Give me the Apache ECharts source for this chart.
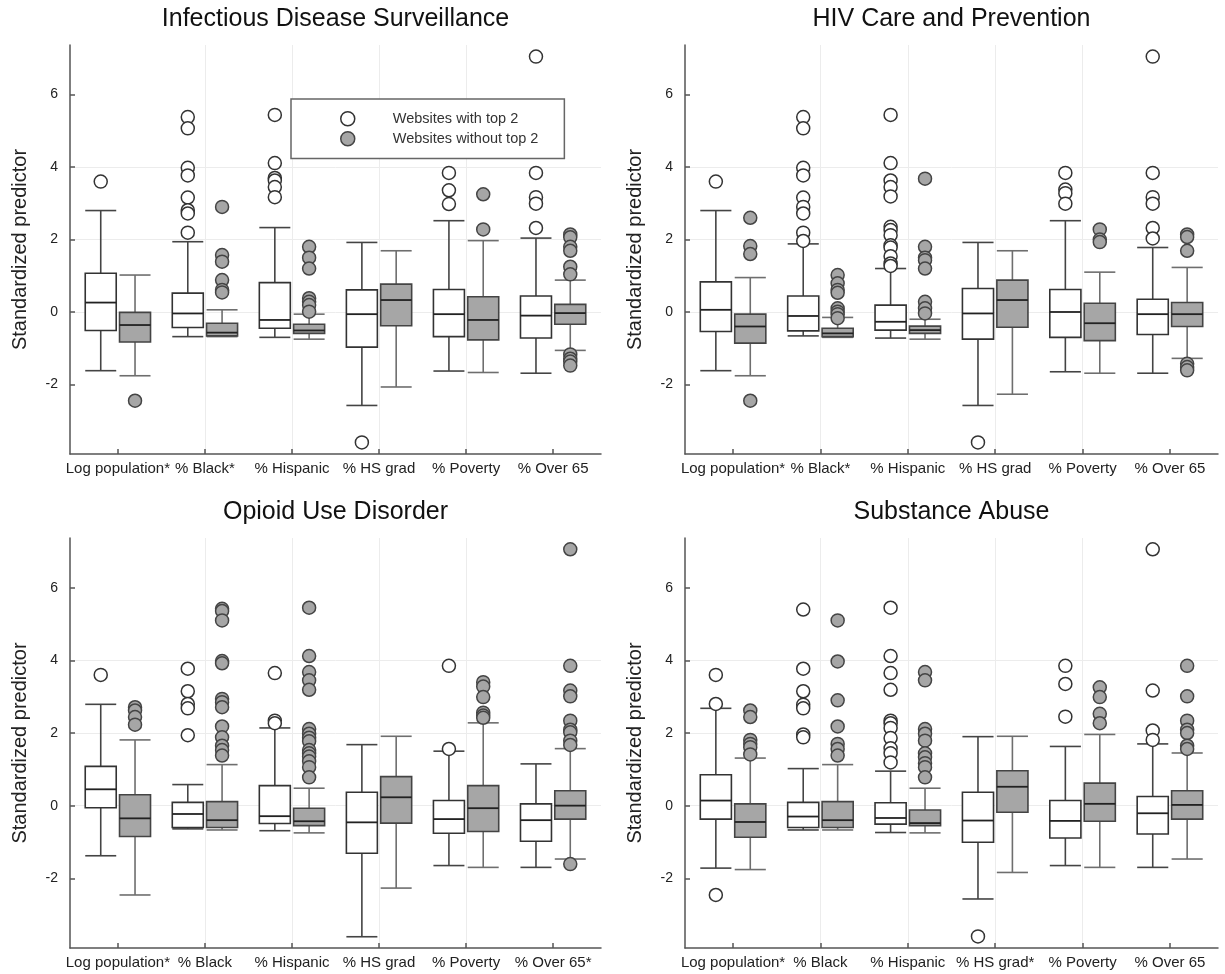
<!DOCTYPE html>
<html>
<head>
<meta charset="utf-8">
<script src="https://cdn.jsdelivr.net/npm/echarts@6/dist/echarts.min.js"></script>
<style>
  html, body { margin: 0; padding: 0; background: #fff; }
  #chart { width: 1225px; height: 974px; }
</style>
</head>
<body>
<div id="chart"></div>
<script>
// panel titles and x categories
const titles = ['Infectious Disease Surveillance', 'HIV Care and Prevention', 'Opioid Use Disorder', 'Substance Abuse'];
const cats1 = ['Log population*', '% Black*', '% Hispanic', '% HS grad', '% Poverty', '% Over 65'];
const cats2 = ['Log population*', '% Black*', '% Hispanic', '% HS grad', '% Poverty', '% Over 65'];
const cats3 = ['Log population*', '% Black', '% Hispanic', '% HS grad', '% Poverty', '% Over 65*'];
const cats4 = ['Log population*', '% Black', '% Hispanic', '% HS grad*', '% Poverty', '% Over 65'];
const yTicks = [-2, 0, 2, 4, 6];
const seriesNames = ['Websites with top 2', 'Websites without top 2'];

// boxes: [lower whisker, Q1, median, Q3, upper whisker] per category
const boxWith1 = [[-1.62, -0.51, 0.26, 1.07, 2.80], [-0.68, -0.43, -0.04, 0.52, 1.94], [-0.70, -0.45, -0.22, 0.81, 2.33], [-2.58, -0.97, -0.06, 0.61, 1.92], [-1.63, -0.68, -0.06, 0.62, 2.52], [-1.69, -0.72, -0.10, 0.44, 2.04]];
const boxWithout1 = [[-1.76, -0.83, -0.36, -0.01, 1.02], [-0.68, -0.66, -0.57, -0.31, 0.06], [-0.75, -0.59, -0.51, -0.34, -0.06], [-2.07, -0.38, 0.33, 0.77, 1.69], [-1.67, -0.77, -0.22, 0.42, 1.97], [-1.06, -0.34, -0.03, 0.21, 0.88]];
const outWith1 = [[3.60], [5.38, 5.07, 3.98, 3.77, 3.16, 2.81, 2.72, 2.19], [5.44, 4.11, 3.70, 3.63, 3.45, 3.17], [-3.60], [3.84, 3.36, 2.98], [7.05, 3.84, 3.17, 2.99, 2.32]];
const outWithout1 = [[-2.45], [2.90, 1.57, 1.39, 0.88, 0.61, 0.54], [1.80, 1.50, 1.20, 0.38, 0.28, 0.19, 0.01], [], [3.25, 2.28], [2.14, 2.06, 1.80, 1.69, 1.25, 1.04, -1.17, -1.29, -1.37, -1.48]];

const boxWith2 = [[-1.62, -0.54, 0.06, 0.83, 2.80], [-0.66, -0.52, -0.11, 0.44, 1.88], [-0.72, -0.50, -0.27, 0.19, 1.20], [-2.58, -0.75, -0.04, 0.65, 1.92], [-1.65, -0.70, 0.00, 0.62, 2.52], [-1.69, -0.62, -0.06, 0.35, 1.78]];
const boxWithout2 = [[-1.76, -0.86, -0.40, -0.06, 0.95], [-0.70, -0.68, -0.59, -0.45, -0.15], [-0.75, -0.59, -0.50, -0.39, -0.20], [-2.27, -0.42, 0.33, 0.88, 1.69], [-1.69, -0.79, -0.31, 0.24, 1.10], [-1.28, -0.40, -0.06, 0.26, 1.23]];
const outWith2 = [[3.60], [5.38, 5.07, 3.98, 3.77, 3.16, 2.90, 2.72, 2.19, 1.96], [5.44, 4.11, 3.63, 3.45, 3.19, 2.35, 2.26, 2.12, 1.84, 1.78, 1.54, 1.34, 1.27], [-3.60], [3.84, 3.38, 3.28, 2.99], [7.05, 3.84, 3.17, 2.99, 2.32, 2.03]];
const outWithout2 = [[2.60, 1.82, 1.60, -2.45], [1.02, 0.79, 0.61, 0.53, 0.10, 0.01, -0.06, -0.17], [3.68, 1.80, 1.50, 1.43, 1.20, 0.28, 0.10, -0.04], [], [2.28, 2.00, 1.93], [2.14, 2.07, 1.69, -1.43, -1.52, -1.61]];

const boxWith3 = [[-1.38, -0.06, 0.45, 1.08, 2.79], [-0.64, -0.60, -0.23, 0.09, 0.58], [-0.69, -0.49, -0.29, 0.55, 2.14], [-3.61, -1.31, -0.46, 0.37, 1.68], [-1.65, -0.76, -0.37, 0.14, 1.50], [-1.70, -0.98, -0.40, 0.05, 1.15]];
const boxWithout3 = [[-2.46, -0.85, -0.35, 0.30, 1.81], [-0.67, -0.60, -0.40, 0.11, 1.13], [-0.75, -0.55, -0.43, -0.07, 0.48], [-2.27, -0.48, 0.23, 0.80, 1.91], [-1.70, -0.71, -0.07, 0.55, 2.28], [-1.47, -0.37, 0.00, 0.41, 1.57]];
const outWith3 = [[3.60], [3.77, 3.15, 2.80, 2.68, 1.94], [3.65, 2.34, 2.27], [], [3.85, 1.56], []];
const outWithout3 = [[2.71, 2.62, 2.44, 2.23], [5.42, 5.36, 5.10, 3.98, 3.92, 2.94, 2.85, 2.71, 2.18, 1.88, 1.65, 1.53, 1.38], [5.45, 4.12, 3.68, 3.45, 3.19, 2.11, 1.98, 1.87, 1.77, 1.53, 1.44, 1.35, 1.22, 1.06, 0.78], [], [3.40, 3.28, 2.99, 2.56, 2.48, 2.42], [7.06, 3.85, 3.17, 3.01, 2.34, 2.09, 2.02, 1.79, 1.67, -1.61]];

const boxWith4 = [[-1.72, -0.37, 0.14, 0.85, 2.68], [-0.67, -0.60, -0.30, 0.09, 1.02], [-0.74, -0.51, -0.34, 0.08, 0.95], [-2.57, -1.01, -0.41, 0.37, 1.90], [-1.65, -0.89, -0.42, 0.14, 1.63], [-1.70, -0.78, -0.21, 0.25, 1.70]];
const boxWithout4 = [[-1.76, -0.87, -0.45, 0.05, 1.31], [-0.67, -0.60, -0.40, 0.11, 1.13], [-0.75, -0.55, -0.48, -0.12, 0.48], [-1.84, -0.18, 0.52, 0.96, 1.91], [-1.70, -0.43, 0.05, 0.62, 1.96], [-1.47, -0.37, 0.02, 0.41, 1.45]];
const outWith4 = [[3.60, 2.80, -2.46], [5.40, 3.77, 3.15, 2.78, 2.68, 1.96, 1.88], [5.45, 4.12, 3.65, 3.19, 2.34, 2.27, 2.14, 1.86, 1.58, 1.44, 1.19], [-3.60], [3.85, 3.35, 2.45], [7.06, 3.17, 2.07, 1.81]];
const outWithout4 = [[2.62, 2.44, 1.81, 1.70, 1.61, 1.41], [5.10, 3.97, 2.90, 2.18, 1.70, 1.56, 1.38], [3.68, 3.45, 2.11, 1.98, 1.79, 1.44, 1.33, 1.17, 1.06, 0.78], [], [3.26, 2.99, 2.53, 2.27], [3.85, 3.01, 2.34, 2.09, 2.00, 1.65, 1.56]];

const panels = [
  { cats: cats1, boxes: [boxWith1, boxWithout1], outs: [outWith1, outWithout1] },
  { cats: cats2, boxes: [boxWith2, boxWithout2], outs: [outWith2, outWithout2] },
  { cats: cats3, boxes: [boxWith3, boxWithout3], outs: [outWith3, outWithout3] },
  { cats: cats4, boxes: [boxWith4, boxWithout4], outs: [outWith4, outWithout4] }
];

const FONT = 'Liberation Sans, Arial, sans-serif';
const grids = [
  { left: 70, top: 45, width: 531, height: 409 },
  { left: 685, top: 45, width: 533, height: 409 },
  { left: 70, top: 538, width: 531, height: 410 },
  { left: 685, top: 538, width: 533, height: 410 }
];
const OFFSETS = [-0.197, 0.197];
const HALF = 0.178;
const fills = ['#ffffff', '#a6a6a6'];
const strokes = ['#333333', '#444444'];
const whiskerColors = ['#444444', '#6e6e6e'];

function boxRenderer(k) {
  return function (params, api) {
    const x = api.value(0) + OFFSETS[k];
    const xl = api.coord([x - HALF, 0])[0];
    const xr = api.coord([x + HALF, 0])[0];
    const xc = api.coord([x, 0])[0];
    const yLow = api.coord([x, api.value(1)])[1];
    const yQ1 = api.coord([x, api.value(2)])[1];
    const yMed = api.coord([x, api.value(3)])[1];
    const yQ3 = api.coord([x, api.value(4)])[1];
    const yHigh = api.coord([x, api.value(5)])[1];
    const wStyle = { stroke: whiskerColors[k], lineWidth: 1.6 };
    return {
      type: 'group',
      children: [
        { type: 'line', shape: { x1: xc, y1: yHigh, x2: xc, y2: yQ3 }, style: wStyle },
        { type: 'line', shape: { x1: xc, y1: yQ1, x2: xc, y2: yLow }, style: wStyle },
        { type: 'line', shape: { x1: xl, y1: yHigh, x2: xr, y2: yHigh }, style: wStyle },
        { type: 'line', shape: { x1: xl, y1: yLow, x2: xr, y2: yLow }, style: wStyle },
        { type: 'rect', shape: { x: xl, y: yQ3, width: xr - xl, height: yQ1 - yQ3 },
          style: { fill: fills[k], stroke: strokes[k], lineWidth: 1.6 } },
        { type: 'line', shape: { x1: xl, y1: yMed, x2: xr, y2: yMed },
          style: { stroke: '#222', lineWidth: 1.8 } }
      ]
    };
  };
}

const option = {
  animation: false,
  backgroundColor: '#fff',
  textStyle: { fontFamily: FONT },
  title: titles.map((t, i) => ({
    text: t,
    left: grids[i].left + grids[i].width / 2,
    top: i < 2 ? 7 : 500,
    textAlign: 'center',
    padding: 0,
    textStyle: { fontFamily: FONT, fontSize: 25, fontWeight: 'normal', color: '#111' }
  })),
  legend: {
    data: [
      { name: seriesNames[0], icon: 'circle', itemStyle: { color: '#fff', borderColor: '#333', borderWidth: 1.5 } },
      { name: seriesNames[1], icon: 'circle', itemStyle: { color: '#a6a6a6', borderColor: '#444', borderWidth: 1.5 } }
    ],
    orient: 'vertical',
    left: 291,
    top: 99,
    itemWidth: 80,
    itemHeight: 14,
    itemGap: 4.5,
    padding: [12, 26, 12, 49],
    borderColor: '#666',
    borderWidth: 1.5,
    backgroundColor: '#fff',
    selectedMode: false,
    textStyle: { fontFamily: FONT, fontSize: 14.5, color: '#333' }
  },
  grid: grids,
  xAxis: panels.map((p, i) => ({
    type: 'value',
    gridIndex: i,
    min: 0.45,
    max: 6.55,
    minInterval: 1,
    maxInterval: 1,
    axisLine: { show: true, onZero: false, lineStyle: { color: '#555', width: 1.5 } },
    axisTick: { show: true, inside: true, length: 5, customValues: [1, 2, 3, 4, 5, 6], lineStyle: { color: '#555', width: 1.5 } },
    axisLabel: {
      customValues: [1, 2, 3, 4, 5, 6],
      formatter: v => p.cats[Math.round(v) - 1],
      fontSize: 15, color: '#222', margin: 7, fontFamily: FONT
    },
    splitLine: { show: true, showMinLine: false, showMaxLine: false, lineStyle: { color: '#ececec', width: 1 } }
  })),
  yAxis: panels.map((p, i) => ({
    type: 'value',
    gridIndex: i,
    min: -3.92,
    max: 7.37,
    minInterval: 2,
    maxInterval: 2,
    name: 'Standardized predictor',
    nameLocation: 'middle',
    nameGap: 40,
    nameTextStyle: { fontSize: 20, color: '#222', fontFamily: FONT },
    axisLine: { show: true, onZero: false, lineStyle: { color: '#555', width: 1.5 } },
    axisTick: { show: true, inside: true, length: 5, customValues: yTicks, lineStyle: { color: '#555', width: 1.5 } },
    axisLabel: { customValues: yTicks, fontSize: 14, color: '#222', margin: 12, fontFamily: FONT },
    splitLine: { show: true, showMinLine: false, showMaxLine: false, lineStyle: { color: '#ececec', width: 1 } }
  })),
  series: []
};

panels.forEach((p, i) => {
  [0, 1].forEach(k => {
    option.series.push({
      type: 'custom',
      xAxisIndex: i,
      yAxisIndex: i,
      renderItem: boxRenderer(k),
      encode: { x: 0, y: [1, 2, 3, 4, 5] },
      data: p.boxes[k].map((b, c) => [c + 1].concat(b)),
      z: 2
    });
  });
  [0, 1].forEach(k => {
    const pts = [];
    p.outs[k].forEach((vals, c) => vals.forEach(v => pts.push([c + 1 + OFFSETS[k], v])));
    option.series.push({
      type: 'scatter',
      name: seriesNames[k],
      xAxisIndex: i,
      yAxisIndex: i,
      symbol: 'circle',
      symbolSize: 13,
      itemStyle: { color: fills[k], borderColor: strokes[k], borderWidth: 1.5, opacity: 1 },
      data: pts,
      z: 3
    });
  });
});

const chart = echarts.init(document.getElementById('chart'));
chart.setOption(option);
</script>
</body>
</html>
